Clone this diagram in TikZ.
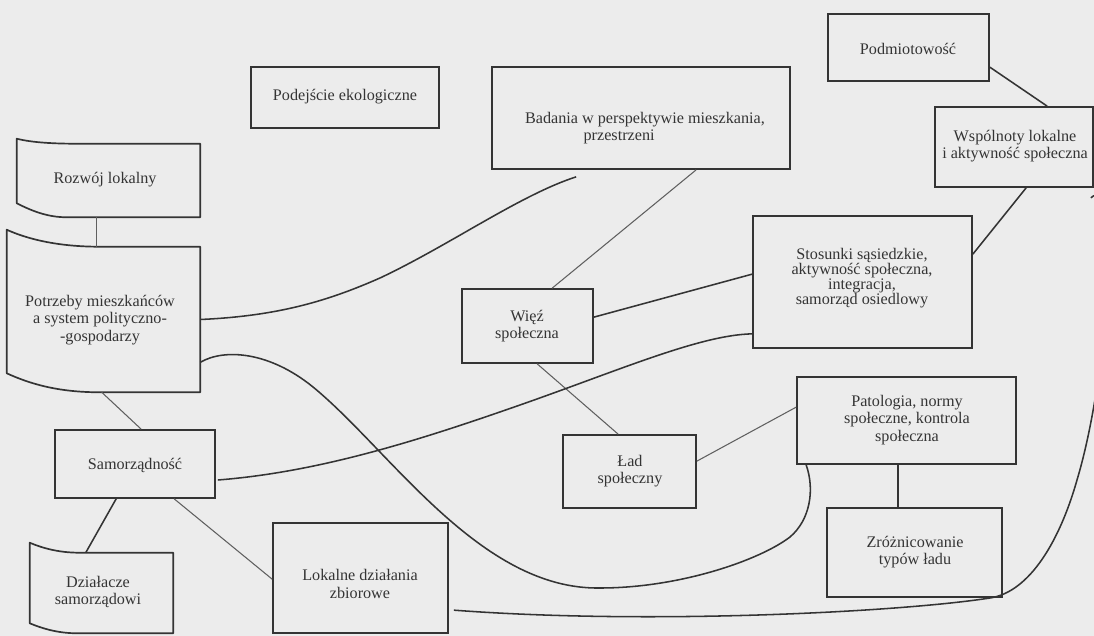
\documentclass[tikz,border=0pt]{standalone}
\usepackage{fontspec}
\setmainfont{Liberation Serif}
\usetikzlibrary{calc}
\definecolor{paper}{RGB}{236,236,236}
\definecolor{ink}{RGB}{52,52,52}
\definecolor{inkthin}{RGB}{95,95,95}
\tikzset{
  box/.style 2 args={draw=ink, line width=1.2pt, rectangle, inner sep=0pt,
    minimum width=#1*0.025cm, minimum height=#2*0.025cm},
  frame/.style 2 args={draw=none, rectangle, inner sep=0pt,
    minimum width=#1*0.025cm, minimum height=#2*0.025cm},
  edge/.style={draw=ink, line width=1.2pt, line join=round},
  lbl/.style={align=center, inner sep=0pt, text=ink,
    font=\fontsize{11.5}{12.6}\selectfont},
  link/.style={draw=ink, line width=1.1pt},
  thinlink/.style={draw=inkthin, line width=0.75pt},
  curvelink/.style={draw=ink, line width=1.1pt}
}
\begin{document}
\begin{tikzpicture}[x=0.025cm, y=-0.025cm]
\useasboundingbox (0,0) rectangle (1094,636);
\fill[paper] (0,0) rectangle (1094,636);
\clip (0,0) rectangle (1094,636);

% plain boxes
\node[box={188}{61}]  (podej) at (345,97.5) {};
\node[box={298}{102}] (bad)   at (641,118) {};
\node[box={161}{67}]  (podm)  at (908.5,47.5) {};
\node[box={158}{80}]  (wsp)   at (1014,147) {};
\node[box={219}{132}] (stos)  at (862.5,282) {};
\node[box={131}{74}]  (wiez)  at (527.5,326) {};
\node[box={133}{73}]  (lad)   at (629.5,471.5) {};
\node[box={219}{87}]  (pat)   at (906.5,420.5) {};
\node[box={175}{89}]  (zroz)  at (914.5,552.5) {};
\node[box={175}{110}] (lok)   at (360.5,578) {};
\node[box={160}{68}]  (samo)  at (135,464) {};

% boxes with a bent left edge: the frame node spans the straight part
\node[frame={183}{73}]  (rozw) at (108.5,180.5) {};
\node[frame={193}{145}] (potr) at (103.5,319.5) {};
\node[frame={143}{80}]  (dzia) at (101.5,593) {};

\draw[edge] (rozw.north east) -- ($(rozw.north west)+(60,0)$)
  .. controls ($(rozw.north west)+(30,0)$) and ($(rozw.north west)+(12,-2)$) .. ($(rozw.north west)+(0,-5)$)
  -- ($(rozw.south west)+(0,-14)$)
  .. controls ($(rozw.south west)+(14,-7)$) and ($(rozw.south west)+(30,0)$) .. ($(rozw.south west)+(50,0)$)
  -- (rozw.south east) -- cycle;

\draw[edge] (potr.north east) -- ($(potr.north west)+(93,0)$)
  .. controls ($(potr.north west)+(50,0)$) and ($(potr.north west)+(20,-8)$) .. ($(potr.north west)+(0,-17)$)
  -- ($(potr.south west)+(0,-19)$)
  .. controls ($(potr.south west)+(22,-9)$) and ($(potr.south west)+(50,0)$) .. ($(potr.south west)+(93,0)$)
  -- (potr.south east) -- cycle;

\draw[edge] (dzia.north east) -- ($(dzia.north west)+(50,0)$)
  .. controls ($(dzia.north west)+(28,0)$) and ($(dzia.north west)+(12,-5)$) .. ($(dzia.north west)+(0,-10)$)
  -- ($(dzia.south west)+(0,-10)$)
  .. controls ($(dzia.south west)+(12,-5)$) and ($(dzia.south west)+(28,0)$) .. ($(dzia.south west)+(47,0)$)
  -- (dzia.south east) -- cycle;

% texts
\node[lbl] (podej-t) at (345,97) {Podejście ekologiczne};
\node[lbl] (bad-t)   at (645,128) {Badania w perspektywie mieszkania,\\\hspace*{-3.2em}przestrzeni};
\node[lbl] (podm-t)  at (908,49) {Podmiotowość};
\node[lbl] (wsp-t)   at (1015,146) {Wspólnoty lokalne\\i aktywność społeczna};
\node[lbl, font=\fontsize{11.5}{10.6}\selectfont] (stos-t) at (862,278)
  {Stosunki sąsiedzkie,\\aktywność społeczna,\\integracja,\\samorząd osiedlowy};
\node[lbl] (wiez-t)  at (527,326) {Więź\\społeczna};
\node[lbl] (lad-t)   at (630,471) {Ład\\społeczny};
\node[lbl] (pat-t)   at (907,420) {Patologia, normy\\społeczne, kontrola\\społeczna};
\node[lbl] (zroz-t)  at (915,552) {Zróżnicowanie\\typów ładu};
\node[lbl] (lok-t)   at (360,584) {Lokalne działania\\zbiorowe};
\node[lbl] (samo-t)  at (135,465) {Samorządność};
\node[lbl] (rozw-t)  at (105,180) {Rozwój lokalny};
\node[lbl] (potr-t)  at (100,320) {Potrzeby mieszkańców\\a system polityczno-\\-gospodarzy};
\node[lbl] (dzia-t)  at (98,592) {Działacze\\samorządowi};

% straight connectors
\draw[thinlink] ($(rozw.south west)+(80,0)$) -- ($(potr.north west)+(90,0)$);
\draw[thinlink] ($(potr.south west)+(95,0)$) -- ($(samo.north west)+(87,0)$);
\draw[link]     ($(samo.south west)+(62,0)$) -- ($(dzia.north west)+(56,0)$);
\draw[thinlink] ($(samo.south west)+(120,0)$) -- ($(lok.north west)+(0,57)$);
\draw[thinlink] ($(bad.south west)+(205,0)$) -- ($(wiez.north west)+(91,0)$);
\draw[link]     ($(wiez.north east)+(0,29)$) -- ($(stos.north west)+(0,59)$);
\draw[thinlink] ($(wiez.south west)+(76,0)$) -- ($(lad.north west)+(56,0)$);
\draw[thinlink] ($(lad.north east)+(0,27)$) -- ($(pat.north west)+(0,31)$);
\draw[link]     ($(pat.south west)+(102,0)$) -- ($(zroz.north west)+(72,0)$);
\draw[link]     ($(stos.north east)+(0,39)$) -- ($(wsp.south west)+(92,0)$);
\draw[link]     ($(podm.north east)+(0,54)$) -- ($(wsp.north west)+(113,0)$);

% curved connectors
\draw[curvelink] (potr.east)
  .. controls (280,316) and (330,300) .. (380,278)
  .. controls (450,245) and (520,195) .. ($(bad.south west)+(85,7)$);

\draw[curvelink] ($(potr.south east)+(0,-30)$)
  .. controls (225,348) and (270,352) .. (313,387)
  .. controls (390,450) and (480,590) .. (600,588)
  .. controls (680,588) and (760,560) .. (790,537)
  .. controls (810,520) and (815,490) .. ($(pat.south west)+(10,0)$);

\draw[curvelink] ($(samo.east)+(2,16)$)
  .. controls (320,472) and (420,440) .. (520,405)
  .. controls (620,370) and (700,335) .. ($(stos.south west)+(0,-15)$);

\draw[curvelink] ($(lok.north east)+(5,88)$)
  .. controls (650,625) and (900,612) .. (990,598)
  .. controls (1030,592) and (1060,540) .. (1077,480)
  .. controls (1110,370) and (1120,170) .. ($(wsp.south east)+(-3,10)$);
\end{tikzpicture}
\end{document}
